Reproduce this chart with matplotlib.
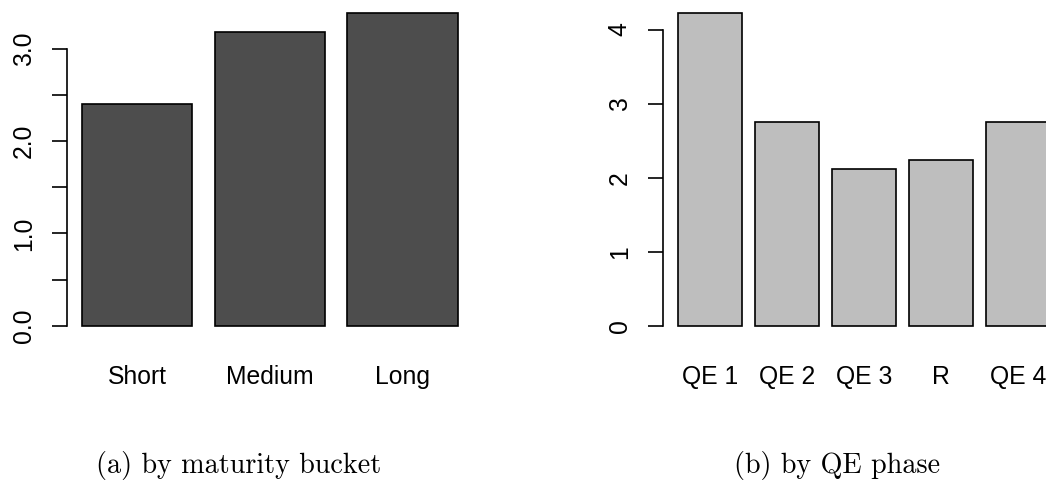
import numpy as np
import matplotlib.pyplot as plt

# average values
maturity = ["Short", "Medium", "Long"]
maturity_vals = [2.40, 3.18, 3.39]

phases = ["QE 1", "QE 2", "QE 3", "R", "QE 4"]
phase_vals = [4.23, 2.75, 2.12, 2.24, 2.75]

plt.rcParams['font.family'] = ['Liberation Sans', 'DejaVu Sans']

W, H = 1046, 491
fig = plt.figure(figsize=(W / 100, H / 100), dpi=100)


def r_barplot(ax, labels, vals, color, yticks, yticklabels):
    # mimic R's barplot(): width 1, space 0.2, 4% padding on both axes
    n = len(vals)
    right = np.cumsum(np.full(n, 1.2))
    centers = right - 0.5
    ax.bar(centers, vals, width=1.0, color=color, edgecolor='black', linewidth=1.2)
    lo, hi = right[0] - 1.0, right[-1]
    pad = 0.04 * (hi - lo)
    ax.set_xlim(lo - pad, hi + pad)
    top = max(vals)
    ax.set_ylim(-0.04 * top, 1.04 * top)

    for s in ['top', 'right', 'bottom']:
        ax.spines[s].set_visible(False)
    ax.spines['left'].set_bounds(yticks[0], yticks[-1])
    ax.spines['left'].set_linewidth(1.2)
    ax.set_yticks(yticks)
    ax.set_yticklabels(yticklabels)
    ax.tick_params(axis='y', length=10.8, width=1.2, pad=11.5, labelsize=17.8,
                   labelrotation=90)
    for t in ax.get_yticklabels():
        t.set_verticalalignment('center')
    ax.set_xticks(centers)
    ax.set_xticklabels(labels)
    ax.tick_params(axis='x', length=0, pad=19, labelsize=17.8)
    ax.patch.set_alpha(0)


# left panel: plot region 66.7..473.2 px, 0..338.3 px
ax1 = fig.add_axes([66.7 / W, (H - 338.3) / H, 406.5 / W, 338.3 / H])
r_barplot(ax1, maturity, maturity_vals, '#4d4d4d',
          [0, 0.5, 1, 1.5, 2, 2.5, 3], ['0.0', '', '1.0', '', '2.0', '', '3.0'])

# right panel runs past the right edge of the picture, as in the original
ax2 = fig.add_axes([662.7 / W, (H - 338.3) / H, 402.8 / W, 338.3 / H])
r_barplot(ax2, phases, phase_vals, '#bebebe',
          [0, 1, 2, 3, 4], ['0', '1', '2', '3', '4'])

# LaTeX style sub-captions
fig.text(239 / W, (H - 472.7) / H, "(a) by maturity bucket", ha='center',
         va='baseline', fontfamily='cmr10', fontsize=20.3)
fig.text(836.7 / W, (H - 472.7) / H, "(b) by QE phase", ha='center',
         va='baseline', fontfamily='cmr10', fontsize=20.3)

fig.savefig('out.png', dpi=100)
